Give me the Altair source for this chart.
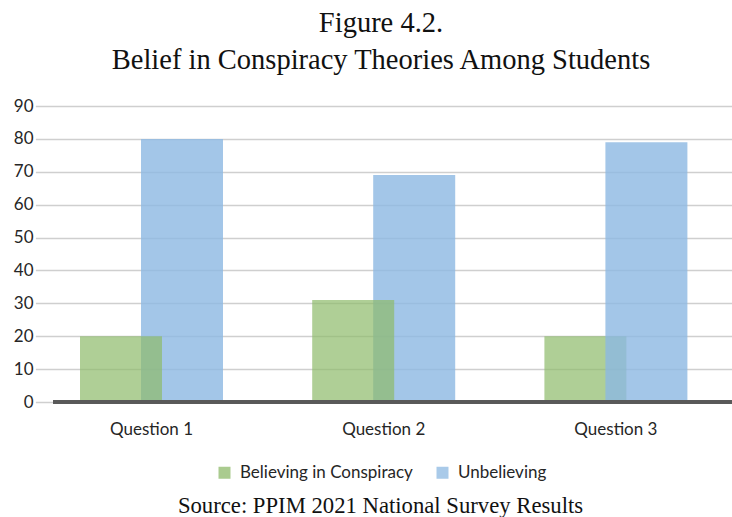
import altair as alt
import pandas as pd

# Survey answers per question (percent of students)
questions = ["Question 1", "Question 2", "Question 3"]
believing = [20, 31, 20]
unbelieving = [80, 69, 79]

series_names = ["Believing in Conspiracy", "Unbelieving"]
series_colors = ["#8DBA6A", "#8CB8E2"]
y_ticks = list(range(0, 91, 10))

# Questions where the blue bar is painted over the green one
blue_on_top = ["Question 3"]

rows = []
for q, b, u in zip(questions, believing, unbelieving):
    rows.append({"question": q, "series": series_names[0], "value": b})
    rows.append({"question": q, "series": series_names[1], "value": u})
df = pd.DataFrame(rows)

label_font = "Lato"
serif_font = "Liberation Serif"

x_enc = alt.X(
    "question:N",
    sort=questions,
    scale=alt.Scale(range=[-17.6, 679], paddingInner=0, paddingOuter=0),
    title="Source: PPIM 2021 National Survey Results",
    axis=alt.Axis(
        domain=False,
        ticks=False,
        labelAngle=0,
        labelFont=label_font,
        labelFontSize=17,
        labelColor="#262626",
        labelPadding=19,
        titleFont=serif_font,
        titleFontSize=22.7,
        titleFontWeight="normal",
        titleColor="#111111",
        titleX=327,
        titleY=110,
        titleAlign="center",
        titleBaseline="alphabetic",
    ),
)

y_scale = alt.Scale(domain=[0, 90], nice=False)
y_axis = alt.Axis(
    values=y_ticks,
    tickCount=len(y_ticks),
    labelOverlap=False,
    domain=False,
    ticks=False,
    labelFont=label_font,
    labelFontSize=17,
    labelColor="#262626",
    labelPadding=20,
    gridColor="#cfcfcf",
    gridWidth=1.3,
)
y_enc = alt.Y("value:Q", scale=y_scale, title=None, axis=y_axis)

color_enc = alt.Color(
    "series:N",
    scale=alt.Scale(domain=series_names, range=series_colors),
    legend=alt.Legend(
        title=None,
        orient="none",
        direction="horizontal",
        legendX=163,
        legendY=358,
        symbolType="square",
        symbolSize=144,
        symbolStrokeWidth=0,
        symbolOpacity=0.75,
        labelFont=label_font,
        labelFontSize=17,
        labelColor="#262626",
        labelLimit=0,
        labelOffset=7,
        columnPadding=21,
        padding=0,
    ),
)

base = alt.Chart(df)

is_blue_top = " || ".join(f"datum.question === '{q}'" for q in blue_on_top)

blue_back = (
    base.transform_filter(f"datum.series === '{series_names[1]}' && !({is_blue_top})")
    .mark_bar(width=82, xOffset=30.5, opacity=0.8)
    .encode(x=x_enc, y=y_enc, color=color_enc)
)
green = (
    base.transform_filter(f"datum.series === '{series_names[0]}'")
    .mark_bar(width=82, xOffset=-30.5, opacity=0.7)
    .encode(x=x_enc, y=y_enc, color=color_enc)
)
blue_front = (
    base.transform_filter(f"datum.series === '{series_names[1]}' && ({is_blue_top})")
    .mark_bar(width=82, xOffset=30.5, opacity=0.8)
    .encode(x=x_enc, y=y_enc, color=color_enc)
)
baseline = base.mark_rule(color="#595959", strokeWidth=3).encode(
    y=alt.Y(datum=0, scale=y_scale, title=None, axis=y_axis)
)

chart = (
    alt.layer(blue_back, green, blue_front, baseline)
    .properties(
        width=679,
        height=296,
        title=alt.TitleParams(
            text=["Figure 4.2.", "Belief in Conspiracy Theories Among Students"],
            font=serif_font,
            fontSize=28.5,
            fontWeight="normal",
            color="#111111",
            anchor="middle",
            frame="group",
            lineHeight=37,
            dx=-11.5,
            offset=23,
        ),
        padding={"left": 53, "top": 106, "right": 0, "bottom": 115},
        autosize=alt.AutoSizeParams(type="none"),
        background="white",
    )
    .configure_view(stroke=None)
)

chart.save("out.html", embed_options={"renderer": "svg", "actions": False})
